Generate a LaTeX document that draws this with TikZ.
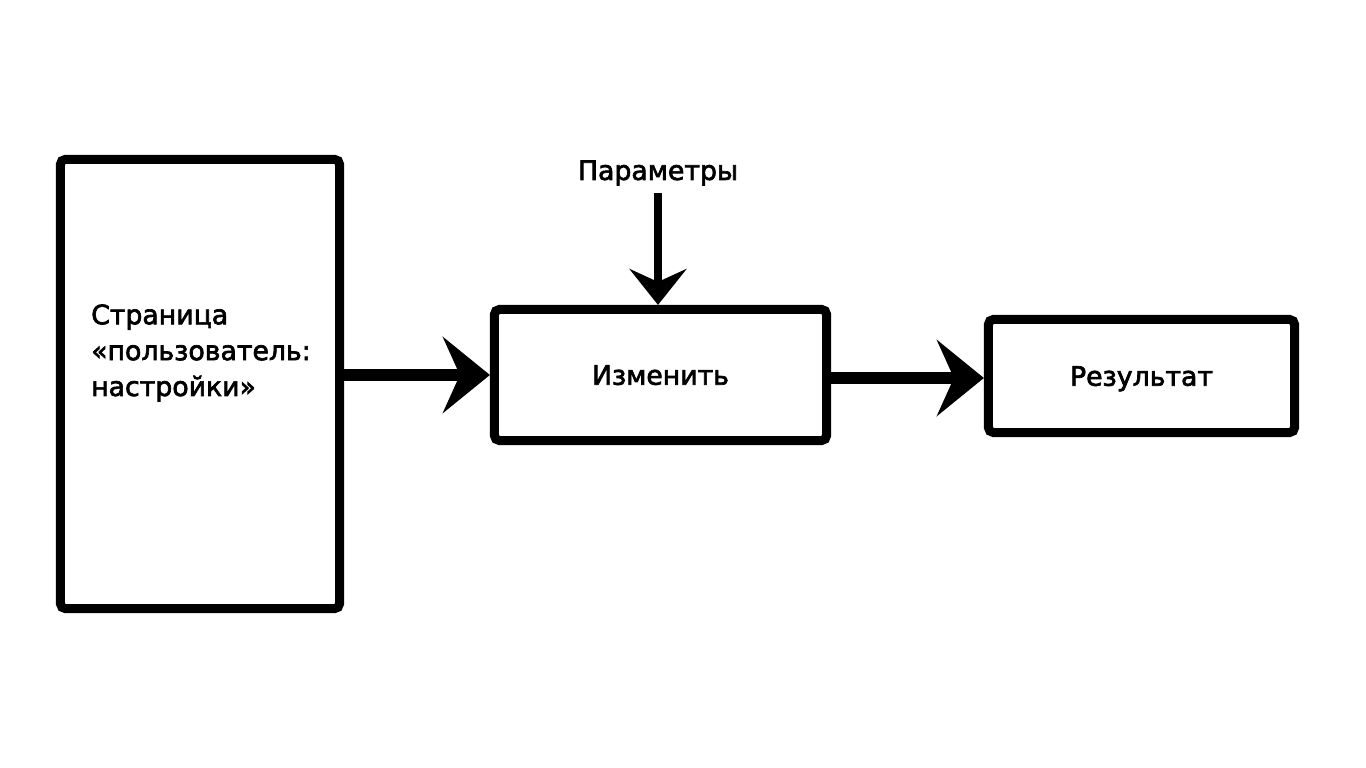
\documentclass[tikz,border=0pt]{standalone}
\usepackage{fontspec}
\setmainfont{DejaVu Sans}[BoldFont={DejaVu Sans},BoldFeatures={FakeBold=2.5}]
\usetikzlibrary{arrows.meta,positioning}

\begin{document}
\begin{tikzpicture}[
  x=0.01cm, y=-0.01cm, font=\fontsize{7.6}{10.2}\selectfont\bfseries,
  block/.style={draw,line width=0.09cm,rounded corners=0.05cm,align=center,text depth=0pt},
  txt/.style={inner sep=1pt,align=left},
  arr/.style={-{Stealth[length=0.47cm,width=0.76cm,inset=0.17cm]},line width=0.12cm},
  arrsmall/.style={-{Stealth[length=0.36cm,width=0.57cm,inset=0.13cm]},line width=0.08cm}]
\useasboundingbox (0,0) rectangle (1366,768);
\node[block,minimum width=2.79cm,minimum height=4.49cm](page) at (200,384){};
\node[txt,anchor=west](pagetxt) at (87,353){Страница\\«пользователь:\\настройки»};
\node[block,minimum width=3.32cm,minimum height=1.31cm](edit) at (660.5,375){Изменить};
\node[block,minimum width=3.06cm,minimum height=1.13cm](res) at (1141.5,376){Результат};
\node[inner sep=2pt](param) at (658,173){Параметры};
\draw[arr](page.east|-edit)--(edit.west);
\draw[arr]([yshift=-0.03cm]edit.east)--([yshift=-0.03cm]edit.east-|res.west);
\draw[arrsmall](param.south)--(param.south|-edit.north);
\end{tikzpicture}
\end{document}
